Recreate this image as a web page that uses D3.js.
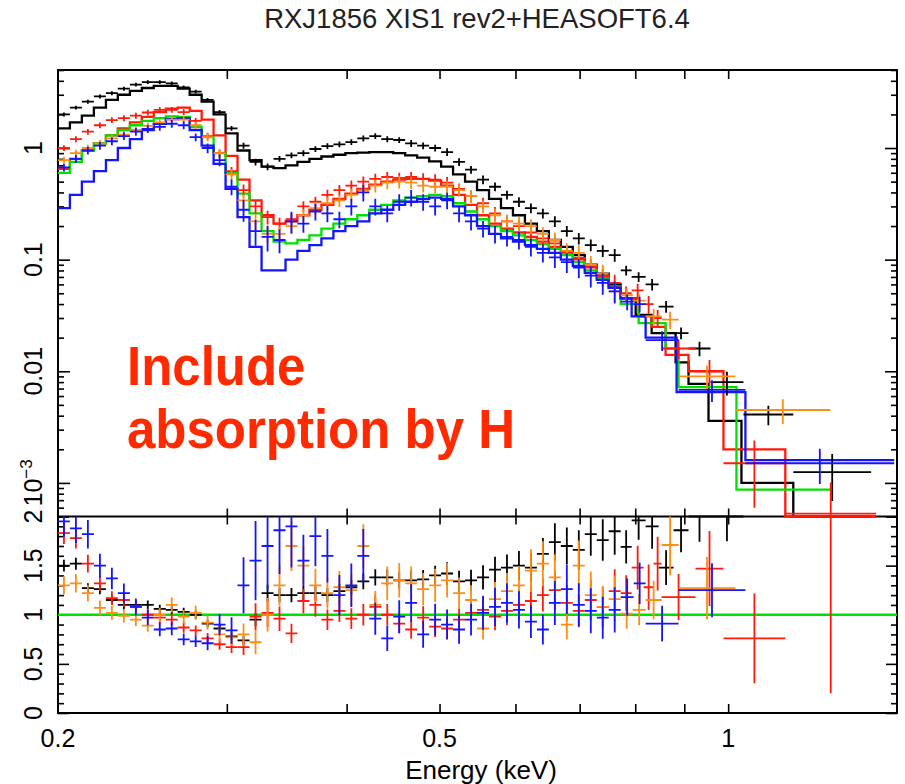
<!DOCTYPE html>
<html>
<head>
<meta charset="utf-8">
<script src="https://cdn.jsdelivr.net/npm/d3@7"></script>
<style>
  body { margin: 0; background: #fff; }
  text { font-family: "Liberation Sans", Arial, Helvetica, sans-serif; }
</style>
</head>
<body>
<div id="chart"></div>
<script>
// ---- energy bins (keV) shared by all four spectra below 0.77 keV ----
var gridEdges = [0.2000, 0.2058, 0.2118, 0.2180, 0.2244, 0.2309, 0.2377, 0.2446, 0.2517, 0.2591,
  0.2666, 0.2744, 0.2824, 0.2906, 0.2991, 0.3078, 0.3168, 0.3261, 0.3356, 0.3454,
  0.3554, 0.3658, 0.3765, 0.3875, 0.3988, 0.4104, 0.4224, 0.4347, 0.4474, 0.4604,
  0.4738, 0.4877, 0.5019, 0.5165, 0.5316, 0.5471, 0.5631, 0.5795, 0.5964, 0.6138,
  0.6317, 0.6501, 0.6691, 0.6886, 0.7087, 0.7294, 0.7506, 0.7725];

// ---- black spectrum ----
var blackFlux = [2.0, 2.3, 2.6, 2.9, 3.1, 3.4, 3.7, 3.9, 3.9, 3.8,
  3.5, 3.2, 2.7, 2.1, 1.5, 1.05, 0.75, 0.68, 0.8, 0.86,
  0.9, 0.98, 1.04, 1.08, 1.13, 1.22, 1.28, 1.2, 1.18, 1.1,
  1.05, 1.0, 0.92, 0.75, 0.64, 0.52, 0.45, 0.38, 0.33, 0.29,
  0.26, 0.22, 0.18, 0.155, 0.135, 0.12, 0.11];
var blackRatio = [1.5, 1.52, 1.27, 1.26, 1.15, 1.1, 1.1, 1.1, 1.06, 1.05,
  1.03, 1.0, 0.91, 0.86, 0.78, 0.74, 0.95, 1.22, 1.2, 1.2,
  1.22, 1.22, 1.2, 1.24, 1.28, 1.34, 1.38, 1.38, 1.35, 1.35,
  1.36, 1.4, 1.42, 1.34, 1.35, 1.38, 1.46, 1.48, 1.5, 1.48,
  1.62, 1.74, 1.7, 1.66, 1.82, 1.76, 1.85];
var blackErr = [0.04, 0.04, 0.04, 0.04, 0.04, 0.04, 0.04, 0.04, 0.04, 0.04,
  0.04, 0.04, 0.04, 0.045, 0.05, 0.06, 0.07, 0.07, 0.06, 0.06,
  0.06, 0.06, 0.06, 0.06, 0.06, 0.06, 0.06, 0.06, 0.06, 0.07,
  0.07, 0.07, 0.08, 0.08, 0.08, 0.09, 0.09, 0.09, 0.1, 0.1,
  0.1, 0.11, 0.11, 0.12, 0.12, 0.12, 0.13];
var blackTailEdges = [0.7931, 0.8202, 0.8462, 0.8771, 0.9092, 0.9584, 1.0373, 1.1693, 1.4096];
var blackTailFlux = [0.08, 0.07, 0.06, 0.038, 0.022, 0.016, 0.008, 0.0041, 0.00125];
var blackTailRatio = [1.69, 1.96, 1.9, 1.48, 1.86, 2.05, 2.3, null, null];
var blackTailErr = [0.1, 0.1, 0.12, 0.12, 0.12, 0.15, 0.24, 0.2, 0.45];

// ---- red spectrum ----
var redFlux = [1.0, 1.2, 1.4, 1.6, 1.78, 1.85, 1.95, 2.08, 2.2, 2.2,
  2.1, 1.75, 1.28, 0.9, 0.62, 0.42, 0.3, 0.24, 0.21, 0.23,
  0.3, 0.33, 0.38, 0.42, 0.46, 0.5, 0.53, 0.55, 0.54, 0.55,
  0.53, 0.52, 0.49, 0.43, 0.37, 0.32, 0.26, 0.22, 0.2, 0.175,
  0.155, 0.14, 0.115, 0.1, 0.085, 0.07, 0.062];
var redRatio = [1.83, 1.78, 1.52, 1.32, 1.17, 1.15, 1.08, 1.0, 0.97, 0.95,
  0.87, 0.84, 0.76, 0.7, 0.67, 0.67, 0.98, 1.02, 0.96, 0.81,
  1.14, 1.1, 0.95, 1.04, 0.96, 1.0, 1.08, 1.0, 0.91, 0.85,
  0.97, 0.88, 0.86, 0.95, 1.02, 1.05, 0.98, 1.04, 1.1, 1.14,
  1.2, 1.25, 1.12, 1.04, 1.15, 1.08, 1.24];
var redErr = [0.06, 0.06, 0.06, 0.06, 0.06, 0.06, 0.06, 0.06, 0.06, 0.06,
  0.06, 0.06, 0.07, 0.08, 0.09, 0.12, 0.14, 0.14, 0.13, 0.12,
  0.11, 0.11, 0.11, 0.11, 0.11, 0.11, 0.11, 0.11, 0.11, 0.11,
  0.12, 0.12, 0.12, 0.12, 0.12, 0.12, 0.14, 0.14, 0.14, 0.14,
  0.14, 0.16, 0.16, 0.16, 0.18, 0.18, 0.18];
var redTailEdges = [0.7931, 0.8163, 0.8361, 0.8523, 0.9246, 0.9888, 1.1471, 1.4266];
var redTailFlux = [0.05, 0.053, 0.04, 0.03, 0.016, 0.01, 0.0015, 0.00053];
var redTailRatio = [1.22, 1.48, 1.28, 1.52, 1.18, 1.47, 0.76, 2.0];
var redTailErr = [0.15, 0.15, 0.18, 0.18, 0.2, 0.26, 0.6, 0.9];

// ---- orange spectrum ----
var orangeFlux = [0.78, 0.9, 1.0, 1.1, 1.22, 1.32, 1.45, 1.58, 1.7, 1.8,
  1.8, 1.6, 1.25, 0.9, 0.58, 0.34, 0.22, 0.17, 0.17, 0.2,
  0.25, 0.29, 0.32, 0.34, 0.38, 0.42, 0.46, 0.49, 0.5, 0.49,
  0.46, 0.45, 0.45, 0.42, 0.37, 0.3, 0.25, 0.22, 0.21, 0.2,
  0.17, 0.15, 0.12, 0.115, 0.09, 0.075, 0.052];
var orangeRatio = [1.3, 1.32, 1.22, 1.07, 1.02, 0.99, 0.95, 0.89, 1.0, 1.1,
  0.98, 1.02, 0.92, 0.8, 0.77, 0.8, 0.72, 1.0, 1.3, 1.7,
  1.5, 1.3, 1.22, 1.28, 1.25, 1.7, 1.1, 1.32, 1.35, 1.32,
  1.26, 1.3, 1.35, 1.22, 1.15, 0.86, 1.16, 1.24, 1.3, 1.45,
  1.52, 1.38, 0.9, 1.5, 1.2, 1.08, 1.16];
var orangeErr = [0.07, 0.07, 0.07, 0.07, 0.07, 0.07, 0.07, 0.07, 0.07, 0.07,
  0.07, 0.07, 0.08, 0.09, 0.11, 0.14, 0.17, 0.17, 0.16, 0.15,
  0.13, 0.13, 0.13, 0.13, 0.13, 0.13, 0.13, 0.13, 0.13, 0.13,
  0.13, 0.13, 0.13, 0.13, 0.13, 0.13, 0.15, 0.15, 0.15, 0.15,
  0.15, 0.17, 0.17, 0.17, 0.2, 0.2, 0.2];
var orangeTailEdges = [0.7951, 0.8202, 0.8523, 0.8877, 1.0176, 1.2777];
var orangeTailFlux = [0.048, 0.043, 0.031, 0.029, 0.009, 0.0045];
var orangeTailRatio = [1.01, 1.05, 1.15, 1.71, 1.27, null];
var orangeTailErr = [0.15, 0.15, 0.17, 0.18, 0.25, 0.25];

// ---- blue spectrum ----
var blueFlux = [0.67, 0.8, 0.95, 1.05, 1.15, 1.28, 1.4, 1.48, 1.55, 1.65,
  1.6, 1.25, 1.0, 0.78, 0.45, 0.28, 0.18, 0.16, 0.15, 0.22,
  0.21, 0.27, 0.26, 0.23, 0.3, 0.4, 0.3, 0.26, 0.33, 0.36,
  0.33, 0.3, 0.34, 0.26, 0.22, 0.19, 0.17, 0.16, 0.15, 0.13,
  0.115, 0.105, 0.095, 0.085, 0.072, 0.062, 0.052];
var blueRatio = [1.95, 1.88, 1.82, 1.5, 1.37, 1.22, 1.08, 0.97, 0.85, 0.86,
  0.75, 0.73, 0.71, 0.9, 0.84, 1.3, 1.55, 1.7, 1.86, 1.9,
  1.55, 1.8, 1.6, 1.2, 1.3, 1.6, 0.96, 0.76, 0.98, 1.12,
  0.8, 0.95, 0.9, 0.85, 0.95, 1.02, 1.08, 1.12, 1.05, 0.93,
  0.85, 1.12, 1.26, 1.1, 1.04, 0.97, 1.05];
var blueErr = [0.08, 0.08, 0.08, 0.08, 0.08, 0.08, 0.08, 0.08, 0.08, 0.08,
  0.08, 0.08, 0.1, 0.12, 0.16, 0.22, 0.26, 0.26, 0.24, 0.22,
  0.17, 0.17, 0.17, 0.17, 0.17, 0.17, 0.17, 0.17, 0.17, 0.17,
  0.17, 0.17, 0.17, 0.17, 0.17, 0.17, 0.18, 0.18, 0.18, 0.18,
  0.18, 0.2, 0.2, 0.2, 0.22, 0.22, 0.22];
var blueTailEdges = [0.7970, 0.8202, 0.8877, 1.0423, 1.49];
var blueTailFlux = [0.042, 0.04, 0.019, 0.0068, 0.0015];
var blueTailRatio = [1.18, 1.32, 0.91, 1.25, null];
var blueTailErr = [0.16, 0.16, 0.2, 0.22, 0.35];

// ---- folded models (step histograms) ----
var blackModel = [1.5, 1.7, 1.95, 2.3, 2.7, 3.0, 3.25, 3.45, 3.6, 3.6,
  3.4, 3.0, 2.6, 2.0, 1.35, 0.95, 0.78, 0.68, 0.66, 0.7,
  0.75, 0.8, 0.84, 0.87, 0.9, 0.91, 0.92, 0.92, 0.9, 0.86,
  0.82, 0.76, 0.68, 0.58, 0.5, 0.42, 0.35, 0.29, 0.25, 0.21,
  0.18, 0.15, 0.13, 0.11, 0.09, 0.075, 0.06];
var blackModelTailEdges = [0.8008, 0.8321, 0.8814, 0.9092, 0.9539, 1.0324, 1.1693, 1.4096];
var blackModelTail = [0.045, 0.032, 0.022, 0.012, 0.0077, 0.0036, 0.001, 0.0003];

var redModel = [0.65, 0.8, 0.95, 1.1, 1.3, 1.5, 1.7, 1.9, 2.1, 2.25,
  2.3, 2.15, 1.8, 1.3, 0.85, 0.52, 0.34, 0.25, 0.21, 0.22,
  0.25, 0.28, 0.31, 0.35, 0.39, 0.43, 0.47, 0.5, 0.52, 0.53,
  0.53, 0.51, 0.46, 0.38, 0.31, 0.25, 0.21, 0.19, 0.175, 0.16,
  0.145, 0.13, 0.118, 0.103, 0.088, 0.072, 0.058];
var redModelTailEdges = [0.8066, 0.8321, 0.8605, 0.9092, 0.9888, 1.1471, 1.4266];
var redModelTail = [0.045, 0.031, 0.025, 0.014, 0.01, 0.002, 0.0003];

var greenModel = [0.6, 0.75, 0.95, 1.1, 1.3, 1.45, 1.6, 1.75, 1.85, 1.92,
  1.9, 1.55, 1.25, 0.9, 0.6, 0.39, 0.26, 0.18, 0.145, 0.14,
  0.15, 0.165, 0.19, 0.21, 0.23, 0.25, 0.28, 0.31, 0.34, 0.36,
  0.37, 0.38, 0.37, 0.32, 0.27, 0.23, 0.2, 0.18, 0.165, 0.15,
  0.138, 0.125, 0.11, 0.095, 0.08, 0.068, 0.056];
var greenModelTailEdges = [0.8066, 0.8605, 0.8877, 1.0201, 1.2777];
var greenModelTail = [0.04, 0.027, 0.016, 0.0072, 0.00087];

var blueModel = [0.29, 0.38, 0.5, 0.62, 0.78, 1.0, 1.2, 1.45, 1.65, 1.82,
  1.85, 1.45, 1.05, 0.72, 0.43, 0.24, 0.13, 0.08, 0.08, 0.1,
  0.12, 0.135, 0.155, 0.18, 0.2, 0.22, 0.26, 0.28, 0.31, 0.33,
  0.35, 0.36, 0.35, 0.3, 0.25, 0.2, 0.17, 0.155, 0.145, 0.135,
  0.125, 0.115, 0.1, 0.088, 0.076, 0.066, 0.056];
var blueModelTailEdges = [0.7931, 0.8202, 0.8835, 1.0423, 1.49];
var blueModelTail = [0.045, 0.031, 0.02, 0.0065, 0.0016];

// ---- axes ----
var xTicks = [0.3, 0.4, 0.5, 0.6, 0.7, 0.8, 0.9, 1.0];
var xTickLabels = [0.2, 0.5, 1];
var topMajorTicks = [0.001, 0.01, 0.1, 1];
var topTickLabels = ["10|-3", "0.01", "0.1", "1"];
var ratioMajorTicks = [0, 0.5, 1, 1.5, 2];
var ratioTickLabels = ["0", "0.5", "1", "1.5", "2"];

(function () {

  var width = 905, height = 784;
  var left = 58, right = 897, top = 70, mid = 516.5, bottom = 713;

  var svg = d3.select("#chart")
    .append("svg")
    .attr("width", width)
    .attr("height", height);

  var xScale = d3.scaleLog().domain([0.2, 1.5]).range([left, right]);
  var yTop = d3.scaleLog().domain([5e-4, 5]).range([mid, top]).clamp(true);
  var yBot = d3.scaleLinear().domain([0, 2]).range([bottom, mid]).clamp(true);

  var colors = { black: "#000000", red: "#ff1a0a", orange: "#ff8c14", blue: "#1414ff", green: "#00e000" };

  // clip rectangles (a little slack so clamped bars on the edges stay visible)
  var defs = svg.append("defs");
  defs.append("clipPath").attr("id", "clipTop").append("rect")
    .attr("x", left).attr("y", top).attr("width", right - left).attr("height", mid - top + 1.5);
  defs.append("clipPath").attr("id", "clipBot").append("rect")
    .attr("x", left).attr("y", mid - 1.5).attr("width", right - left).attr("height", bottom - mid + 1.5);

  function makeBins(edges, flux, ratio, err) {
    return flux.map(function (v, i) {
      return { lo: edges[i], hi: edges[i + 1], v: v, r: ratio ? ratio[i] : null, e: err ? err[i] : 0 };
    });
  }

  var spectra = [
    { color: colors.black, bins: makeBins(gridEdges.concat(blackTailEdges), blackFlux.concat(blackTailFlux), blackRatio.concat(blackTailRatio), blackErr.concat(blackTailErr)) },
    { color: colors.red, bins: makeBins(gridEdges.concat(redTailEdges), redFlux.concat(redTailFlux), redRatio.concat(redTailRatio), redErr.concat(redTailErr)) },
    { color: colors.orange, bins: makeBins(gridEdges.concat(orangeTailEdges), orangeFlux.concat(orangeTailFlux), orangeRatio.concat(orangeTailRatio), orangeErr.concat(orangeTailErr)) },
    { color: colors.blue, bins: makeBins(gridEdges.concat(blueTailEdges), blueFlux.concat(blueTailFlux), blueRatio.concat(blueTailRatio), blueErr.concat(blueTailErr)) }
  ];

  var models = [
    { color: colors.black, bins: makeBins(gridEdges.concat(blackModelTailEdges), blackModel.concat(blackModelTail)) },
    { color: colors.red, bins: makeBins(gridEdges.concat(redModelTailEdges), redModel.concat(redModelTail)) },
    { color: colors.green, bins: makeBins(gridEdges.concat(greenModelTailEdges), greenModel.concat(greenModelTail)) },
    { color: colors.blue, bins: makeBins(gridEdges.concat(blueModelTailEdges), blueModel.concat(blueModelTail)) }
  ];

  // ---------- frames and ticks (drawn first, data goes over them) ----------
  var axisG = svg.append("g").attr("class", "axes");

  function styleAxis(g) {
    g.select(".domain").remove();
    g.selectAll("line").attr("stroke", "#000").attr("stroke-width", 1.6);
  }

  axisG.append("rect")
    .attr("x", left).attr("y", top).attr("width", right - left).attr("height", bottom - top)
    .attr("fill", "none").attr("stroke", "#000").attr("stroke-width", 2);
  axisG.append("line")
    .attr("x1", left).attr("x2", right).attr("y1", mid).attr("y2", mid)
    .attr("stroke", "#000").attr("stroke-width", 2.2);

  // x ticks: bottom of ratio panel, divider (both sides), top of flux panel
  axisG.append("g").attr("transform", "translate(0," + bottom + ")")
    .call(d3.axisBottom(xScale).tickValues(xTicks).tickSize(-9).tickFormat(""))
    .call(styleAxis);
  axisG.append("g").attr("transform", "translate(0," + mid + ")")
    .call(d3.axisBottom(xScale).tickValues(xTicks).tickSize(-8).tickFormat(""))
    .call(styleAxis);
  axisG.append("g").attr("transform", "translate(0," + mid + ")")
    .call(d3.axisTop(xScale).tickValues(xTicks).tickSize(-8).tickFormat(""))
    .call(styleAxis);
  axisG.append("g").attr("transform", "translate(0," + top + ")")
    .call(d3.axisTop(xScale).tickValues(xTicks).tickSize(-9).tickFormat(""))
    .call(styleAxis);

  // log minor ticks for the flux panel, 0.1 steps for the ratio panel
  var topMinor = [];
  [1e-4, 1e-3, 1e-2, 1e-1, 1].forEach(function (dec) {
    for (var k = 2; k <= 9; k++) {
      var v = dec * k;
      if (v >= 5e-4 && v <= 5) topMinor.push(v);
    }
  });
  var ratioMinor = d3.range(0, 2.001, 0.1).filter(function (v) {
    return Math.abs(v * 2 - Math.round(v * 2)) > 1e-6;
  });

  [[d3.axisRight, left], [d3.axisLeft, right]].forEach(function (p) {
    axisG.append("g").attr("transform", "translate(" + p[1] + ",0)")
      .call(p[0](yTop).tickValues(topMajorTicks).tickSize(12).tickFormat(""))
      .call(styleAxis);
    axisG.append("g").attr("transform", "translate(" + p[1] + ",0)")
      .call(p[0](yTop).tickValues(topMinor).tickSize(6).tickFormat(""))
      .call(styleAxis);
    axisG.append("g").attr("transform", "translate(" + p[1] + ",0)")
      .call(p[0](yBot).tickValues(ratioMajorTicks).tickSize(11).tickFormat(""))
      .call(styleAxis);
    axisG.append("g").attr("transform", "translate(" + p[1] + ",0)")
      .call(p[0](yBot).tickValues(ratioMinor).tickSize(6).tickFormat(""))
      .call(styleAxis);
  });

  // ---------- top panel: models ----------
  var topG = svg.append("g").attr("clip-path", "url(#clipTop)");

  var stepLine = d3.line()
    .x(function (d) { return d[0]; })
    .y(function (d) { return d[1]; });

  models.forEach(function (m) {
    var pts = [];
    m.bins.forEach(function (b) {
      pts.push([xScale(b.lo), yTop(b.v)]);
      pts.push([xScale(b.hi), yTop(b.v)]);
    });
    topG.append("path")
      .attr("d", stepLine(pts))
      .attr("fill", "none")
      .attr("stroke", m.color)
      .attr("stroke-width", 2.3);
  });

  // ---------- top panel: data crosses ----------
  function crossPath(b, y, val) {
    var xc = xScale(Math.sqrt(b.lo * b.hi));
    var lo = Math.max(val * (1 - b.e), 1e-9);
    return "M" + xScale(b.lo) + "," + y(val) + "H" + xScale(b.hi) +
      "M" + xc + "," + y(val * (1 + b.e)) + "V" + y(lo);
  }

  spectra.forEach(function (s) {
    topG.append("g").selectAll("path")
      .data(s.bins)
      .enter().append("path")
      .attr("d", function (d) { return crossPath(d, yTop, d.v); })
      .attr("fill", "none")
      .attr("stroke", s.color)
      .attr("stroke-width", 1.8);
  });

  // ---------- bottom panel: ratio ----------
  var botG = svg.append("g").attr("clip-path", "url(#clipBot)");

  botG.append("line")
    .attr("x1", left).attr("x2", right)
    .attr("y1", yBot(1)).attr("y2", yBot(1))
    .attr("stroke", colors.green)
    .attr("stroke-width", 2.3);

  spectra.forEach(function (s) {
    botG.append("g").selectAll("path")
      .data(s.bins.filter(function (d) { return d.r !== null; }))
      .enter().append("path")
      .attr("d", function (d) { return crossPath(d, yBot, d.r); })
      .attr("fill", "none")
      .attr("stroke", s.color)
      .attr("stroke-width", 1.8);
  });

  // ---------- labels ----------
  svg.selectAll(".xlab")
    .data(xTickLabels)
    .enter().append("text")
    .attr("class", "xlab")
    .attr("x", function (d) { return xScale(d); })
    .attr("y", 747)
    .attr("text-anchor", "middle")
    .attr("font-size", 25)
    .text(function (d) { return d; });

  function yLabel(y, label) {
    var t = svg.append("text")
      .attr("transform", "translate(42," + y + ") rotate(-90)")
      .attr("text-anchor", "middle")
      .attr("font-size", 25);
    var parts = label.split("|");
    t.append("tspan").text(parts[0]);
    if (parts[1]) {
      t.append("tspan").attr("dy", -10).attr("font-size", 17).text(parts[1].replace("-", "\u2212"));
    }
  }
  topMajorTicks.forEach(function (v, i) { yLabel(yTop(v), topTickLabels[i]); });
  ratioMajorTicks.forEach(function (v, i) { yLabel(yBot(v), ratioTickLabels[i]); });

  svg.append("text")
    .attr("x", 477).attr("y", 28)
    .attr("text-anchor", "middle")
    .attr("font-size", 27.5)
    .attr("fill", "#222")
    .text("RXJ1856 XIS1 rev2+HEASOFT6.4");

  svg.append("text")
    .attr("x", 481).attr("y", 779)
    .attr("text-anchor", "middle")
    .attr("font-size", 26)
    .text("Energy (keV)");

  // annotation
  var note = svg.append("g")
    .attr("fill", "#ff2a00")
    .attr("font-weight", "bold")
    .attr("font-size", 51);
  note.append("text").attr("transform", "translate(127,385) scale(1,1.08)").text("Include");
  note.append("text").attr("transform", "translate(127,448) scale(1,1.08)").text("absorption by H");

})()
</script>
</body>
</html>
